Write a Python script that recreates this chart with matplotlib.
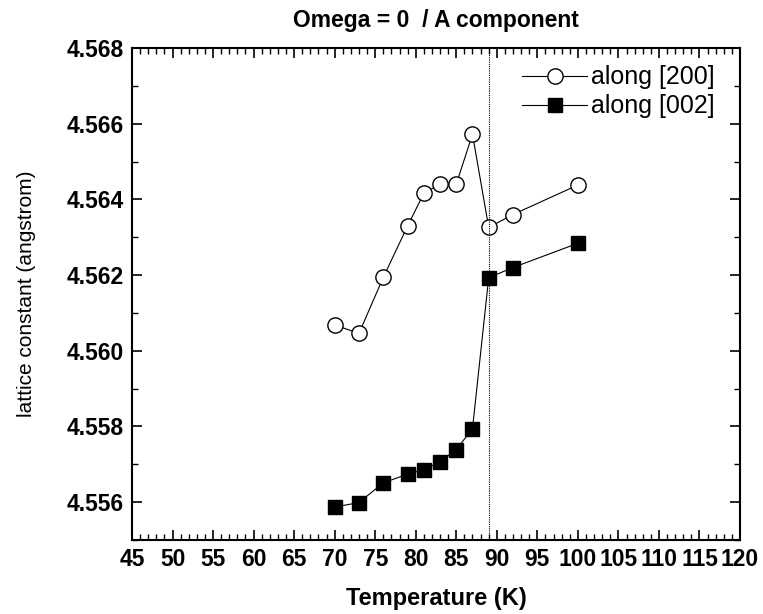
import matplotlib
matplotlib.use("Agg")
import matplotlib.pyplot as plt
from matplotlib.ticker import MultipleLocator

plt.rcParams['font.family'] = ['Liberation Sans', 'DejaVu Sans']

temperature = [70, 73, 76, 79, 81, 83, 85, 87, 89, 92, 100]
along_200 = [4.56068, 4.56046, 4.56194, 4.56330, 4.56416, 4.56440, 4.56440,
             4.56572, 4.56326, 4.56360, 4.56438]
along_002 = [4.55587, 4.55599, 4.55651, 4.55674, 4.55686, 4.55706, 4.55739,
             4.55794, 4.56193, 4.56220, 4.56284]
transition_T = 89
x_ticks = list(range(45, 121, 5))
y_ticks = [4.556, 4.558, 4.560, 4.562, 4.564, 4.566, 4.568]

fig = plt.figure(figsize=(7.63, 6.14), dpi=100)
ax = fig.add_axes([132/763, 1-540/614, (740-132)/763, (540-48)/614])

ax.plot(temperature, along_200, '-o', color='black', mfc='white', mec='black',
        ms=11, lw=0.8, mew=1.0, label='along [200]')
ax.plot(temperature, along_002, '-s', color='black', mfc='black', mec='black',
        ms=10, lw=0.8, label='along [002]')
ax.axvline(transition_T, color='black', lw=0.8, ls=(0, (1, 1)))

ax.set_xlim(45, 120)
ax.set_ylim(4.555, 4.568)
ax.set_xticks(x_ticks)
ax.set_xticklabels([str(t) for t in x_ticks])
ax.xaxis.set_minor_locator(MultipleLocator(1))
ax.set_yticks(y_ticks)
ax.set_yticklabels([f"{v:.3f}" for v in y_ticks])
ax.yaxis.set_minor_locator(MultipleLocator(0.001))

ax.tick_params(axis='both', which='major', direction='in', length=7, width=1.2,
               top=True, right=True, labelsize=16.5, pad=6)
ax.tick_params(axis='both', which='minor', direction='in', length=4, width=1.0,
               top=True, right=True)
for lab in ax.get_xticklabels() + ax.get_yticklabels():
    lab.set_fontweight('bold')
for s in ax.spines.values():
    s.set_linewidth(1.5)

ax.set_xlabel('Temperature (K)', fontsize=17, fontweight='bold', labelpad=11)
ax.set_ylabel('lattice constant (angstrom)', fontsize=15, labelpad=22)
ax.set_title('Omega = 0  / A component', fontsize=16.5, fontweight='bold', pad=15)

leg = ax.legend(loc='upper right', frameon=False, fontsize=18, handlelength=2.6,
                handletextpad=0.15, borderaxespad=0.0, labelspacing=0.2,
                bbox_to_anchor=(0.975, 0.985))

fig.savefig('out.png', dpi=100)
